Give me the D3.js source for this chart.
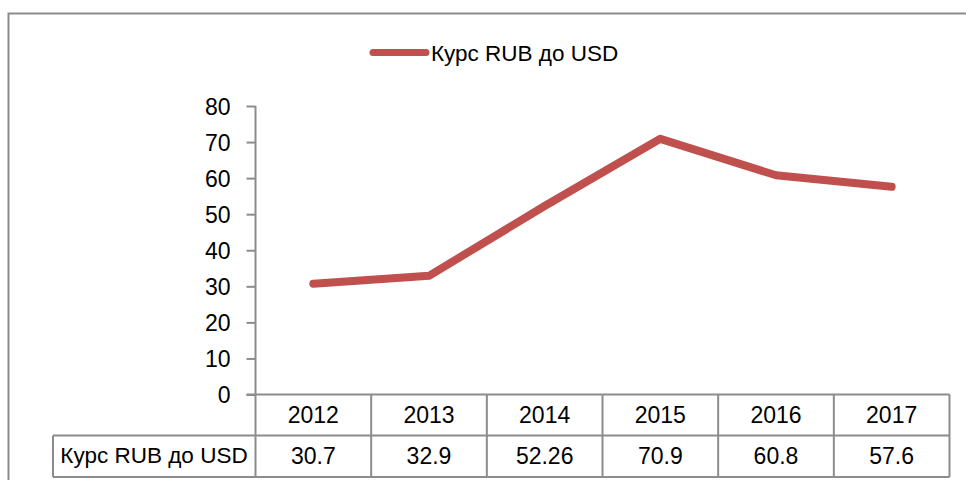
<!DOCTYPE html>
<html><head><meta charset="utf-8">
<script src="https://cdn.jsdelivr.net/npm/d3@7"></script>
<style>body{margin:0;background:#fff}svg{display:block}</style>
</head><body>
<svg id="c" width="966" height="480"></svg>
<script>
const categories = ["2012","2013","2014","2015","2016","2017"];
const seriesName = "Курс RUB до USD";
const values = [30.7, 32.9, 52.26, 70.9, 60.8, 57.6];
const valueLabels = ["30.7","32.9","52.26","70.9","60.8","57.6"];
const yTicks = [0,10,20,30,40,50,60,70,80];

const svg = d3.select("#c");
const font = "'Liberation Sans', Arial, sans-serif";
const gridCol = "#8c8c8c";
const red = "#C0504D";

// outer frame
svg.append("rect").attr("x",8.5).attr("y",13.5).attr("width",1000).attr("height",1000)
  .attr("fill","none").attr("stroke",gridCol).attr("stroke-width",2);

const x = d3.scaleBand().domain(categories).range([255.5, 949.5]);
const y = d3.scaleLinear().domain([0,80]).range([394.5, 106]);

// y axis
const yAxis = d3.axisLeft(y).tickValues(yTicks).tickSize(9).tickPadding(16).tickFormat(d3.format("d"));
const ga = svg.append("g").attr("transform","translate(255.5,0)").call(yAxis);
ga.select(".domain").attr("stroke",gridCol).attr("stroke-width",2).attr("d","M0,106V477");
ga.selectAll(".tick line").attr("stroke",gridCol).attr("stroke-width",2);
ga.selectAll(".tick text").attr("font-family",font).attr("font-size",23).attr("fill","#000").attr("dy","0.36em");

// table
const rowTop = 394.5, rowMid = 435.5, rowBot = 477;
const tbl = svg.append("g");
tbl.append("line").attr("x1",246.5).attr("x2",949.5).attr("y1",rowTop).attr("y2",rowTop).attr("stroke",gridCol).attr("stroke-width",2);
tbl.append("line").attr("x1",53).attr("x2",949.5).attr("y1",rowMid).attr("y2",rowMid).attr("stroke",gridCol).attr("stroke-width",2);
tbl.append("line").attr("x1",53).attr("x2",949.5).attr("y1",rowBot).attr("y2",rowBot).attr("stroke",gridCol).attr("stroke-width",2);
tbl.append("line").attr("x1",53).attr("x2",53).attr("y1",rowMid).attr("y2",rowBot).attr("stroke",gridCol).attr("stroke-width",2);
const bounds = categories.map(c => x(c)).concat([x(categories[categories.length-1]) + x.bandwidth()]);
tbl.selectAll("line.v").data(bounds.slice(1)).join("line").attr("class","v")
  .attr("x1",d=>d).attr("x2",d=>d).attr("y1",rowTop).attr("y2",rowBot)
  .attr("stroke",gridCol).attr("stroke-width",2);
tbl.selectAll("text.cat").data(categories).join("text").attr("class","cat")
  .attr("x",d=>x(d)+x.bandwidth()/2).attr("y",423).attr("text-anchor","middle")
  .attr("font-family",font).attr("font-size",23).text(d=>d);
tbl.selectAll("text.val").data(valueLabels).join("text").attr("class","val")
  .attr("x",(d,i)=>x(categories[i])+x.bandwidth()/2).attr("y",464).attr("text-anchor","middle")
  .attr("font-family",font).attr("font-size",23).text(d=>d);
tbl.append("text").attr("x",154).attr("y",463).attr("text-anchor","middle")
  .attr("font-family",font).attr("font-size",22.5).text(seriesName);

// line
const line = d3.line().x((d,i)=>x(categories[i])+x.bandwidth()/2).y(d=>y(d));
svg.append("path").datum(values).attr("d",line).attr("fill","none")
  .attr("stroke",red).attr("stroke-width",8).attr("stroke-linecap","round").attr("stroke-linejoin","round");

// legend
const lg = svg.append("g");
lg.append("line").attr("x1",373).attr("x2",426).attr("y1",52.5).attr("y2",52.5)
  .attr("stroke",red).attr("stroke-width",7).attr("stroke-linecap","round");
lg.append("text").attr("x",431).attr("y",61).attr("font-family",font).attr("font-size",22.5).text(seriesName);
</script>
</body></html>
